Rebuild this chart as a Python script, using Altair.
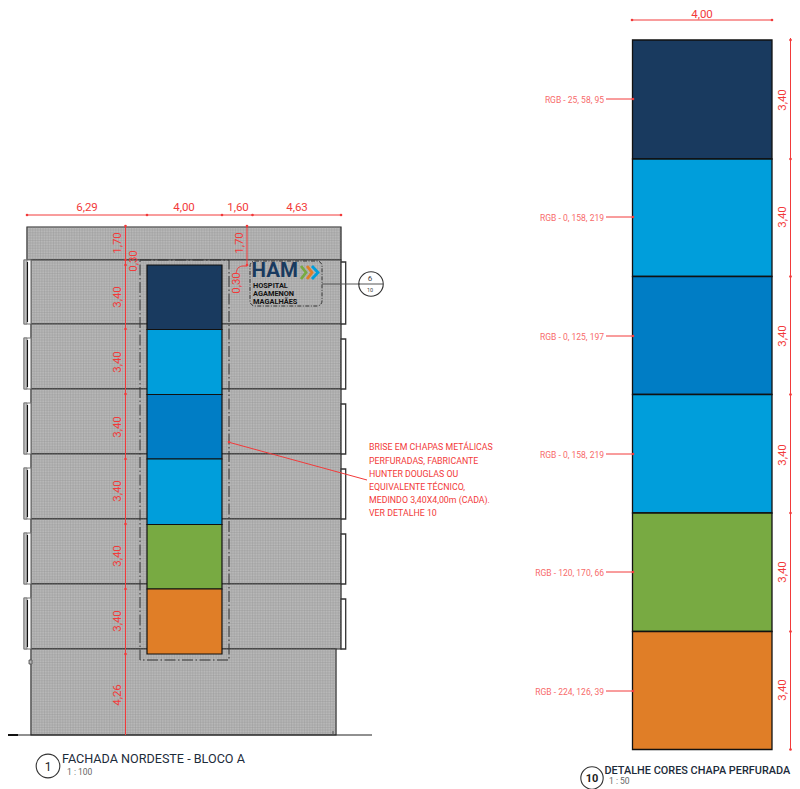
import altair as alt
import pandas as pd

# --- All coordinates are drawing units ---
RED = "#f23a3a"
PINK = "#f76a6a"
DARK = "#222222"
GRAY = "#b8b8b8"
FONT = "Roboto"

panel_colors = ["#193a5f", "#009edb", "#007dc5", "#009edb", "#78aa42", "#e07e27"]

# facade regions: x, x2, y, y2
facade_regions = [
    (27, 341, 227, 260),
    (31, 341, 260, 324),
    (31, 341, 324, 389),
    (31, 341, 389, 454),
    (31, 341, 454, 519),
    (31, 341, 519, 584),
    (31, 341, 584, 649),
    (31, 336, 649, 735),
]
# elevation colour panels
left_panel_y = [265, 329.5, 394.5, 459, 524.5, 589, 654]
left_panel_x = (147, 222)
# detail colour panels
right_panel_y = [40, 159, 276.5, 394.5, 513, 631.5, 749.5]
right_panel_x = (632.5, 772)

left_bracket_y = [(260, 324), (338, 389), (403, 454), (468, 519), (533, 584), (598, 649)]
right_bracket_y = [(262, 324), (339, 389), (404, 454), (469, 519), (534, 584), (599, 649)]

# base rects: x, x2, y, y2, fill, stroke, stroke width
base = []
for x, x2, y, y2 in facade_regions:
    base.append((x, x2, y, y2, GRAY, DARK, 1.2))
for (a, b) in left_bracket_y:
    base.append((24, 31, a, b, "#ffffff", "#777777", 1.1))
    base.append((24, 27, a, b, "#bdbdbd", "#777777", 0.8))
for (a, b) in right_bracket_y:
    base.append((341, 345.7, a, b, "#ffffff", "#333333", 1.3))
base.append((29, 32, 660, 664, GRAY, "#444444", 0.8))
base_df = pd.DataFrame(base, columns=["x", "x2", "y", "y2", "fill", "stroke", "sw"])

# colour panels drawn above the mesh
top = []
for i, c in enumerate(panel_colors):
    top.append((*left_panel_x, left_panel_y[i], left_panel_y[i + 1], c, "#111111", 1.2))
for i, c in enumerate(panel_colors):
    top.append((*right_panel_x, right_panel_y[i], right_panel_y[i + 1], c, "#111111", 1.3))
top_df = pd.DataFrame(top, columns=["x", "x2", "y", "y2", "fill", "stroke", "sw"])

# solid lines: x, x2, y, y2, colour, width
lines = [
    (7, 372, 735, 735, DARK, 1.2),
    (7, 18, 735, 735, "#111111", 2),
    (333, 333, 731, 735, "#555555", 1),
    (322, 360, 284, 284, "#555555", 1),
    (359, 383, 284, 284, "#555555", 1),
    (27.5, 27.5, 262, 322, "#111111", 1.1),
    (27.5, 27.5, 340, 387, "#111111", 1.1),
    (27.5, 27.5, 405, 452, "#111111", 1.1),
    (27.5, 27.5, 470, 517, "#111111", 1.1),
    (27.5, 27.5, 535, 582, "#111111", 1.1),
    (27.5, 27.5, 600, 647, "#111111", 1.1),
    # overall dimensions
    (27, 341, 215, 215, RED, 1),
    (125.5, 125.5, 226, 735, RED, 1),
    (247, 247, 226, 265, RED, 1),
    (632, 772, 20, 20, RED, 1),
    (790.5, 790.5, 38, 749, RED, 1),
    # brise callout
    (367, 228, 480, 442, RED, 1),
    # colour leaders
    (606, 634, 99, 99, RED, 1),
    (606, 634, 217, 217, RED, 1),
    (606, 634, 336, 336, RED, 1),
    (606, 634, 454, 454, RED, 1),
    (606, 634, 572, 572, RED, 1),
    (606, 634, 691, 691, RED, 1),
]
lines_df = pd.DataFrame(lines, columns=["x", "x2", "y", "y2", "color", "sw"])

tick_x = [27, 147, 222, 252.5, 341, 632, 772, 125.5, 125.5, 125.5, 125.5, 125.5, 125.5, 125.5, 125.5, 125.5,
          247, 247, 790.5, 790.5, 790.5, 790.5, 790.5, 790.5, 790.5, 229, 633, 633, 633, 633, 633, 633]
tick_y = [215, 215, 215, 215, 215, 20, 20, 226, 260, 265, 329, 394, 459, 524, 589, 654,
          226, 265, 40, 159, 276.5, 394.5, 513, 631.5, 749.5, 442, 99, 217, 336, 454, 572, 691]
ticks_df = pd.DataFrame({"x": tick_x, "y": tick_y})

# curved leader of the 0,30 dimension
curve_df = pd.DataFrame({"x": [247, 243, 238, 236], "y": [266, 266, 268, 273], "o": [0, 1, 2, 3]})

# logo chevrons
chev_df = pd.DataFrame({
    "x": [301, 306, 301, 307, 312, 307, 312, 318, 312],
    "y": [266, 272.5, 279, 266, 272.5, 279, 266, 272.5, 279],
    "o": [0, 1, 2, 0, 1, 2, 0, 1, 2],
    "g": ["a"] * 3 + ["b"] * 3 + ["c"] * 3,
    "c": ["#78aa42"] * 3 + ["#e07e27"] * 3 + ["#009edb"] * 3,
})

circles_df = pd.DataFrame({"x": [371, 48, 592], "y": [284, 766, 778], "size": [600, 560, 500]})

# texts: x, y, text, size, colour, weight, angle
DIM = 11.5
center_texts = [
    (87, 208, "6,29", DIM, RED, 400, 0),
    (184, 208, "4,00", DIM, RED, 400, 0),
    (238, 208, "1,60", DIM, RED, 400, 0),
    (297, 208, "4,63", DIM, RED, 400, 0),
    (702, 14.5, "4,00", DIM, RED, 400, 0),
    (118, 243, "1,70", DIM, RED, 400, 270),
    (134, 261, "0,30", DIM, RED, 400, 270),
    (118, 297, "3,40", DIM, RED, 400, 270),
    (118, 362, "3,40", DIM, RED, 400, 270),
    (118, 427, "3,40", DIM, RED, 400, 270),
    (118, 491, "3,40", DIM, RED, 400, 270),
    (118, 556, "3,40", DIM, RED, 400, 270),
    (118, 621, "3,40", DIM, RED, 400, 270),
    (118, 695, "4,26", DIM, RED, 400, 270),
    (240, 243, "1,70", DIM, RED, 400, 270),
    (237, 283, "0,30", DIM, RED, 400, 270),
    (783, 100, "3,40", DIM, RED, 400, 270),
    (783, 217, "3,40", DIM, RED, 400, 270),
    (783, 336, "3,40", DIM, RED, 400, 270),
    (783, 455, "3,40", DIM, RED, 400, 270),
    (783, 572, "3,40", DIM, RED, 400, 270),
    (783, 690, "3,40", DIM, RED, 400, 270),
    (370, 279, "6", 8, "#444444", 400, 0),
    (370, 290, "10", 5.5, "#444444", 400, 0),
    (48, 767, "1", 12, "#222222", 400, 0),
    (592, 779, "10", 11, "#222222", 700, 0),
]
left_texts = [
    (369, 447, "BRISE EM CHAPAS METÁLICAS", 8.8, RED, 400, 0),
    (369, 461, "PERFURADAS, FABRICANTE", 8.8, RED, 400, 0),
    (369, 474, "HUNTER DOUGLAS OU", 8.8, RED, 400, 0),
    (369, 487, "EQUIVALENTE TÉCNICO,", 8.8, RED, 400, 0),
    (369, 500, "MEDINDO 3,40X4,00m (CADA).", 8.8, RED, 400, 0),
    (369, 513, "VER DETALHE 10", 8.8, RED, 400, 0),
    (62, 759, "FACHADA NORDESTE - BLOCO A", 12.6, "#1c2b3a", 400, 0),
    (67, 772, "1 : 100", 8.5, "#666666", 400, 0),
    (604.5, 771, "DETALHE CORES CHAPA PERFURADA", 10.9, "#1c2b3a", 500, 0),
    (609, 781, "1 : 50", 8.5, "#666666", 400, 0),
    (251.5, 271, "HAM", 20.5, "#193a5f", 700, 0),
    (253, 286, "HOSPITAL", 7.4, "#111111", 700, 0),
    (253, 294, "AGAMENON", 7.4, "#111111", 700, 0),
    (253, 302, "MAGALHÃES", 7.4, "#111111", 700, 0),
]
right_texts = [
    (604, 100, "RGB - 25, 58, 95", 8.5, PINK, 400, 0),
    (604, 218, "RGB - 0, 158, 219", 8.5, PINK, 400, 0),
    (604, 337, "RGB - 0, 125, 197", 8.5, PINK, 400, 0),
    (604, 455, "RGB - 0, 158, 219", 8.5, PINK, 400, 0),
    (604, 573, "RGB - 120, 170, 66", 8.5, PINK, 400, 0),
    (604, 692, "RGB - 224, 126, 39", 8.5, PINK, 400, 0),
]

X = alt.Scale(domain=[8, 792], nice=False, zero=False)
Y = alt.Scale(domain=[8, 789], nice=False, zero=False, reverse=True)


def xy(xf="x", yf="y"):
    return {"x": alt.X(f"{xf}:Q", scale=X, axis=None), "y": alt.Y(f"{yf}:Q", scale=Y, axis=None)}


def text_layer(rows, align):
    df = pd.DataFrame(rows, columns=["x", "y", "t", "s", "c", "w", "a"])
    layers = []
    for w, sub in df.groupby("w"):
        layers.append(
            alt.Chart(sub)
            .mark_text(align=align, baseline="middle", font=FONT, fontWeight=int(w))
            .encode(
                **xy(),
                text="t:N",
                size=alt.Size("s:Q", scale=None, legend=None),
                color=alt.Color("c:N", scale=None, legend=None),
                angle=alt.Angle("a:Q", scale=None),
            )
        )
    return layers


def mesh(region_df):
    """Fine perforated mesh texture: thick dashed strokes crossing each facade region."""
    mid = region_df.assign(ym=(region_df.y + region_df.y2) / 2, xm=(region_df.x + region_df.x2) / 2,
                           h=region_df.y2 - region_df.y, w=region_df.x2 - region_df.x)
    out = []
    for _, r in mid.iterrows():
        row = pd.DataFrame([r])
        out.append(alt.Chart(row).mark_rule(color="#909090", opacity=0.3, strokeDash=[1, 1.6], strokeWidth=float(r.h) - 1)
                   .encode(x=alt.X("x:Q", scale=X, axis=None), x2="x2:Q", y=alt.Y("ym:Q", scale=Y, axis=None)))
        out.append(alt.Chart(row).mark_rule(color="#909090", opacity=0.3, strokeDash=[1, 1.6], strokeWidth=float(r.w) - 1)
                   .encode(y=alt.Y("y:Q", scale=Y, axis=None), y2="y2:Q", x=alt.X("xm:Q", scale=X, axis=None)))
    return out


def rect_layer(df):
    return alt.Chart(df).mark_rect().encode(
        x=alt.X("x:Q", scale=X, axis=None), x2="x2:Q",
        y=alt.Y("y:Q", scale=Y, axis=None), y2="y2:Q",
        fill=alt.Fill("fill:N", scale=None, legend=None),
        stroke=alt.Stroke("stroke:N", scale=None, legend=None),
        strokeWidth=alt.StrokeWidth("sw:Q", scale=None, legend=None),
    )


facade_df = pd.DataFrame(facade_regions, columns=["x", "x2", "y", "y2"])

outline = alt.Chart(pd.DataFrame({"x": [140], "x2": [229], "y": [260], "y2": [660]})).mark_rect(
    fillOpacity=0, stroke="#333333", strokeWidth=1, strokeDash=[11, 2.5, 1.5, 2.5]
).encode(x=alt.X("x:Q", scale=X, axis=None), x2="x2:Q", y=alt.Y("y:Q", scale=Y, axis=None), y2="y2:Q")

logo_box = alt.Chart(pd.DataFrame({"x": [250], "x2": [322], "y": [261], "y2": [306]})).mark_rect(
    fillOpacity=0, stroke="#333333", strokeWidth=1, strokeDash=[4, 1.5, 1, 1.5], cornerRadius=5
).encode(x=alt.X("x:Q", scale=X, axis=None), x2="x2:Q", y=alt.Y("y:Q", scale=Y, axis=None), y2="y2:Q")

line_layer = alt.Chart(lines_df).mark_rule().encode(
    x=alt.X("x:Q", scale=X, axis=None), x2="x2:Q",
    y=alt.Y("y:Q", scale=Y, axis=None), y2="y2:Q",
    color=alt.Color("color:N", scale=None, legend=None),
    strokeWidth=alt.StrokeWidth("sw:Q", scale=None, legend=None),
)

tick_layer = alt.Chart(ticks_df).mark_point(filled=True, color=RED, size=7, opacity=1).encode(**xy())

curve_layer = alt.Chart(curve_df).mark_line(color=RED, strokeWidth=1, interpolate="monotone").encode(
    **xy(), order="o:Q")

chev_layer = alt.Chart(chev_df).mark_line(strokeWidth=2.8).encode(
    **xy(), detail="g:N", order="o:Q", color=alt.Color("c:N", scale=None, legend=None))

circle_layer = alt.Chart(circles_df).mark_point(filled=False, color="#333333", strokeWidth=1.1, opacity=1).encode(
    **xy(), size=alt.Size("size:Q", scale=None, legend=None))

layers = [rect_layer(base_df)] + mesh(facade_df) + [outline, rect_layer(top_df), logo_box, line_layer, tick_layer, curve_layer, chev_layer, circle_layer]
layers += text_layer(center_texts, "center") + text_layer(left_texts, "left") + text_layer(right_texts, "right")

chart = alt.layer(*layers).properties(
    width=784, height=781, padding=0, autosize=alt.AutoSizeParams(type="none"), background="#ffffff"
).configure_view(stroke=None)

chart.save("out.html", embed_options={"renderer": "svg", "actions": False})
